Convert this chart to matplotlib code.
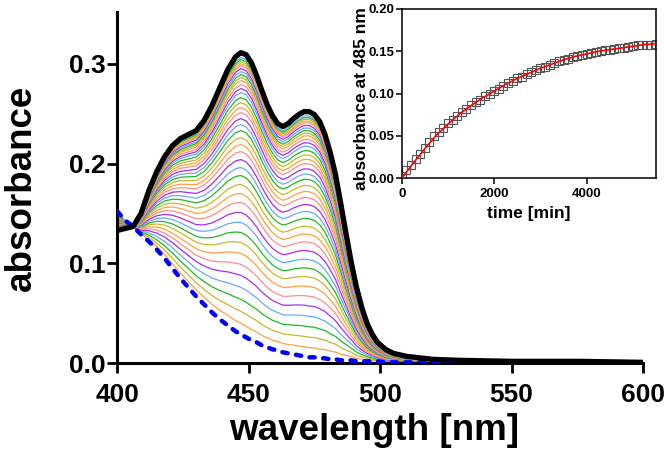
import numpy as np
import matplotlib.pyplot as plt
from matplotlib.ticker import FormatStrFormatter, MultipleLocator

plt.rcParams['font.family'] = ['Liberation Sans', 'DejaVu Sans']
plt.rcParams['font.weight'] = 'bold'

# Spectra (wavelength in nm, absorbance)
wavelength = [400, 403, 406, 409, 412, 415, 418, 421, 424, 427, 430, 433, 436, 439,
              442, 445, 447, 449, 451, 453, 455, 457, 459, 461, 463, 465, 467, 469,
              471, 473, 475, 477, 479, 481, 483, 485, 487, 489, 491, 493, 495, 497,
              499, 502, 505, 510, 520, 530, 550, 575, 600]
final_spec = [0.133, 0.135, 0.137, 0.150, 0.173, 0.192, 0.207, 0.218, 0.225, 0.229,
              0.233, 0.243, 0.258, 0.276, 0.294, 0.307, 0.311, 0.309, 0.301, 0.288,
              0.273, 0.259, 0.248, 0.240, 0.237, 0.240, 0.245, 0.249, 0.252, 0.252,
              0.249, 0.242, 0.229, 0.211, 0.189, 0.160, 0.130, 0.101, 0.076, 0.056,
              0.040, 0.029, 0.021, 0.014, 0.010, 0.007, 0.004, 0.003, 0.002, 0.002, 0.001]
initial_spec = [0.152, 0.143, 0.137, 0.129, 0.122, 0.114, 0.105, 0.095, 0.085, 0.076,
                0.067, 0.059, 0.051, 0.044, 0.038, 0.032, 0.029, 0.026, 0.023, 0.021,
                0.018, 0.016, 0.014, 0.013, 0.011, 0.010, 0.009, 0.008, 0.007, 0.006,
                0.006, 0.005, 0.005, 0.004, 0.004, 0.003, 0.003, 0.003, 0.002, 0.002,
                0.002, 0.002, 0.002, 0.001, 0.001, 0.001, 0.001, 0.001, 0.001, 0.001, 0.001]

# Absorbance at the 447 nm maximum for each intermediate trace (bottom to top)
peak_447 = [0.040, 0.052, 0.064, 0.076, 0.088, 0.099, 0.110, 0.121, 0.131, 0.141,
            0.151, 0.161, 0.170, 0.179, 0.188, 0.196, 0.204, 0.212, 0.219, 0.226,
            0.233, 0.239, 0.245, 0.251, 0.256, 0.261, 0.266, 0.271, 0.275, 0.279,
            0.283, 0.286, 0.289, 0.292, 0.295, 0.298, 0.300, 0.302, 0.304, 0.306]

trace_colors = ['#FFA040', '#C8B82A', '#22B822', '#66AAFF', '#A82EEA', '#FF8C8C']

# Kinetics at 485 nm (inset)
time_min = list(range(0, 5501, 100))
abs_485 = [0.003, 0.010, 0.016, 0.023, 0.029, 0.036, 0.043, 0.050, 0.055, 0.060,
           0.065, 0.069, 0.074, 0.078, 0.082, 0.086, 0.090, 0.093, 0.097, 0.100,
           0.103, 0.106, 0.109, 0.112, 0.115, 0.118, 0.120, 0.123, 0.125, 0.128,
           0.130, 0.132, 0.134, 0.136, 0.138, 0.140, 0.141, 0.143, 0.144, 0.146,
           0.147, 0.148, 0.149, 0.150, 0.151, 0.152, 0.153, 0.154, 0.154, 0.155,
           0.156, 0.157, 0.157, 0.158, 0.158, 0.159]
fit_time = [0, 250, 500, 750, 1000, 1250, 1500, 1750, 2000, 2250, 2500, 2750, 3000,
            3250, 3500, 3750, 4000, 4250, 4500, 4750, 5000, 5250, 5500]
fit_485 = [0.000, 0.018, 0.035, 0.051, 0.064, 0.076, 0.086, 0.095, 0.103, 0.111,
           0.118, 0.124, 0.130, 0.135, 0.140, 0.144, 0.147, 0.150, 0.152, 0.154,
           0.156, 0.158, 0.159]

wl = np.array(wavelength)
a_fin = np.array(final_spec)
a_ini = np.array(initial_spec)
i447 = wavelength.index(447)

fig = plt.figure(figsize=(6.64, 4.63), dpi=100)
ax = fig.add_axes([0.1767, 0.2153, 0.7917, 0.7594])

# intermediate traces: mixtures of start and end spectra scaled to the read peak value
for i, p in enumerate(peak_447):
    frac = (p - a_ini[i447]) / (a_fin[i447] - a_ini[i447])
    ax.plot(wl, a_ini + frac * (a_fin - a_ini), color=trace_colors[i % len(trace_colors)],
            lw=0.9, zorder=2)

ax.plot(wl, a_ini, color='#0000FF', lw=3.2, linestyle=(0, (1.2, 1.9)),
        dash_capstyle='round', zorder=4)
ax.plot(wl, a_fin, color='black', lw=3.8, solid_capstyle='round', zorder=5)

ax.set_xlim(400, 600)
ax.set_ylim(0, 0.352)
ax.xaxis.set_major_locator(MultipleLocator(50))
ax.yaxis.set_major_locator(MultipleLocator(0.1))
ax.yaxis.set_major_formatter(FormatStrFormatter('%.1f'))
for s in ['top', 'right']:
    ax.spines[s].set_visible(False)
for s in ['left', 'bottom']:
    ax.spines[s].set_linewidth(2.2)
ax.tick_params(axis='both', direction='out', length=7.5, width=2.0, labelsize=19)
ax.tick_params(axis='y', pad=1)
ax.tick_params(axis='x', pad=7)
ax.set_xlabel('wavelength [nm]', fontsize=26.5, fontweight='bold')
ax.set_ylabel('absorbance', fontsize=26.5, fontweight='bold')
ax.xaxis.set_label_coords(0.488, -0.14)
ax.yaxis.set_label_coords(-0.15, 0.5)

# Inset: absorbance at 485 nm vs time
ins = fig.add_axes([0.605, 0.6149, 0.383, 0.3657])
ins.plot(time_min, abs_485, linestyle='none', marker='s', markersize=6,
         mfc='none', mec='#555555', mew=0.8, zorder=2)
ins.plot(fit_time, fit_485, color='red', lw=1.2, zorder=3)
ins.set_xlim(0, 5500)
ins.set_ylim(0, 0.20)
ins.set_xticks([0, 2000, 4000])
ins.yaxis.set_major_locator(MultipleLocator(0.05))
ins.yaxis.set_major_formatter(FormatStrFormatter('%.2f'))
for s in ins.spines.values():
    s.set_linewidth(1.1)
ins.tick_params(axis='both', direction='out', length=4, width=1.1, labelsize=9.5)
ins.tick_params(axis='y', pad=1)
ins.tick_params(axis='x', pad=3)
ins.set_xlabel('time [min]', fontsize=12.5, fontweight='bold')
ins.set_ylabel('absorbance at 485 nm', fontsize=12.5, fontweight='bold')
ins.xaxis.set_label_coords(0.5, -0.165)
ins.yaxis.set_label_coords(-0.13, 0.47)

plt.savefig('out.png', dpi=100)
